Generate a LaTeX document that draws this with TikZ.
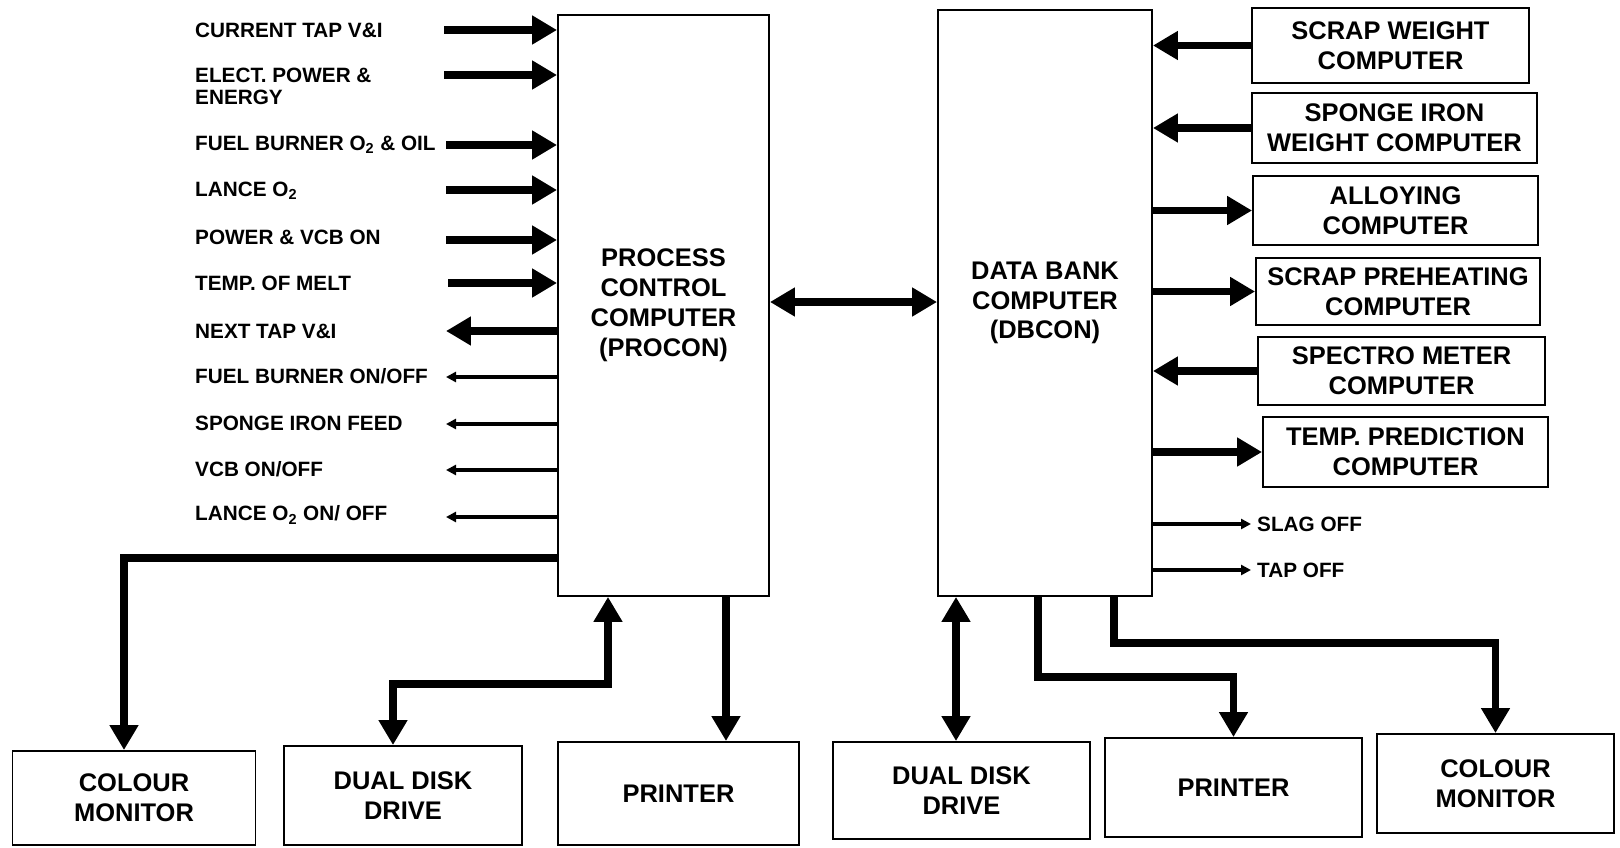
\documentclass[tikz,border=0pt]{standalone}
\usepackage{fontspec}
\setmainfont{Liberation Sans}
\usetikzlibrary{positioning, arrows.meta, calc}
\newcommand{\boxfnt}{\fontsize{14.5}{17}\selectfont\bfseries}
\newcommand{\lblfnt}{\fontsize{11.8}{12.5}\selectfont\bfseries}

\begin{document}
\begin{tikzpicture}[
    x=0.02cm, y=-0.02cm,
    box/.style={draw, line width=1.1pt, align=center, inner sep=0pt, font=\boxfnt},
    lbl/.style={font=\lblfnt, anchor=west, align=left},
    fat/.style={line width=4.5pt, -{Triangle[length=0.5cm, width=0.55cm]}},
    fatboth/.style={line width=4.5pt, {Triangle[length=0.5cm, width=0.55cm]}-{Triangle[length=0.5cm, width=0.55cm]}},
    slim/.style={line width=1.9pt, -{Triangle[length=0.2cm, width=0.2cm]}}
]
    \fill[white] (0,0) rectangle (1620,848);
    \useasboundingbox (0,0) rectangle (1620,848);

    % main computers
    \node[box, minimum width=4.22cm, minimum height=11.62cm] (procon) at (663.5,305.5)
        {PROCESS\\CONTROL\\COMPUTER\\(PROCON)};
    \node[box, minimum width=4.28cm, minimum height=11.72cm] (dbcon) at (1045,303)
        {DATA BANK\\COMPUTER\\(DBCON)};
    \coordinate (link) at (850,302);
    \draw[fatboth] (link -| procon.east) -- (link -| dbcon.west);

    % inputs to PROCON
    \node[lbl] at (189,30) {CURRENT TAP V\&I};
    \coordinate (i1) at (444,30);
    \draw[fat] (i1) -- (i1 -| procon.west);

    \node[lbl] at (189,86) {ELECT. POWER \&\\ENERGY};
    \coordinate (i2) at (444,75);
    \draw[fat] (i2) -- (i2 -| procon.west);

    \node[lbl] at (189,145) {FUEL BURNER O\textsubscript{2} \& OIL};
    \coordinate (i3) at (446,145);
    \draw[fat] (i3) -- (i3 -| procon.west);

    \node[lbl] at (189,191) {LANCE O\textsubscript{2}};
    \coordinate (i4) at (446,190);
    \draw[fat] (i4) -- (i4 -| procon.west);

    \node[lbl] at (189,237) {POWER \& VCB ON};
    \coordinate (i5) at (446,240);
    \draw[fat] (i5) -- (i5 -| procon.west);

    \node[lbl] at (189,283) {TEMP. OF MELT};
    \coordinate (i6) at (448,283);
    \draw[fat] (i6) -- (i6 -| procon.west);

    % outputs from PROCON
    \node[lbl] at (189,331) {NEXT TAP V\&I};
    \coordinate (o1) at (446,331);
    \draw[fat] (o1 -| procon.west) -- (o1);

    \node[lbl] at (189,376) {FUEL BURNER ON/OFF};
    \coordinate (o2) at (446,377);
    \draw[slim] (o2 -| procon.west) -- (o2);

    \node[lbl] at (189,423) {SPONGE IRON FEED};
    \coordinate (o3) at (446,424);
    \draw[slim] (o3 -| procon.west) -- (o3);

    \node[lbl] at (189,469) {VCB ON/OFF};
    \coordinate (o4) at (446,470);
    \draw[slim] (o4 -| procon.west) -- (o4);

    \node[lbl] at (189,515) {LANCE O\textsubscript{2} ON/ OFF};
    \coordinate (o5) at (446,517);
    \draw[slim] (o5 -| procon.west) -- (o5);

    % PROCON peripherals
    \node[box, minimum width=4.86cm, minimum height=1.88cm] (cmon1) at (134,798) {COLOUR\\MONITOR};
    \node[box, minimum width=4.76cm, minimum height=1.98cm] (ddisk1) at (403,795.5) {DUAL DISK\\DRIVE};
    \node[box, minimum width=4.82cm, minimum height=2.06cm] (prn1) at (678.5,793.5) {PRINTER};

    \coordinate (cm1bend) at (124,558);
    \draw[fat] (cm1bend -| procon.west) -- (cm1bend) -- (cm1bend |- cmon1.north);
    \coordinate (dd1a) at (393,684);
    \coordinate (dd1b) at (608,684);
    \draw[fatboth] (dd1a |- ddisk1.north) -- (dd1a) -- (dd1b) -- (dd1b |- procon.south);
    \draw[fat] ([xshift=1.25cm]procon.south) -- ([xshift=1.25cm]procon.south |- prn1.north);

    % DBCON satellites
    \node[box, minimum width=5.54cm, minimum height=1.5cm] (sw) at (1390.5,45.5) {SCRAP WEIGHT\\COMPUTER};
    \node[box, minimum width=5.7cm, minimum height=1.4cm] (si) at (1394.5,128) {SPONGE IRON\\WEIGHT COMPUTER};
    \node[box, minimum width=5.7cm, minimum height=1.38cm] (al) at (1395.5,210.5) {ALLOYING\\COMPUTER};
    \node[box, minimum width=5.68cm, minimum height=1.34cm] (sp) at (1398,291.5) {SCRAP PREHEATING\\COMPUTER};
    \node[box, minimum width=5.74cm, minimum height=1.36cm] (sm) at (1401.5,371) {SPECTRO METER\\COMPUTER};
    \node[box, minimum width=5.7cm, minimum height=1.4cm] (tp) at (1405.5,452) {TEMP. PREDICTION\\COMPUTER};

    \draw[fat] (sw.west) -- (sw.west -| dbcon.east);
    \draw[fat] (si.west) -- (si.west -| dbcon.east);
    \draw[fat] (al.west -| dbcon.east) -- (al.west);
    \draw[fat] (sp.west -| dbcon.east) -- (sp.west);
    \draw[fat] (sm.west) -- (sm.west -| dbcon.east);
    \draw[fat] (tp.west -| dbcon.east) -- (tp.west);

    \node[lbl] (slag) at (1251,524) {SLAG OFF};
    \draw[slim] (slag.west -| dbcon.east) -- (slag.west);
    \node[lbl] (tapoff) at (1251,570) {TAP OFF};
    \draw[slim] (tapoff.west -| dbcon.east) -- (tapoff.west);

    % DBCON peripherals
    \node[box, minimum width=5.14cm, minimum height=1.94cm] (ddisk2) at (961.5,790.5) {DUAL DISK\\DRIVE};
    \node[box, minimum width=5.14cm, minimum height=1.98cm] (prn2) at (1233.5,787.5) {PRINTER};
    \node[box, minimum width=4.74cm, minimum height=1.98cm] (cmon2) at (1495.5,783.5) {COLOUR\\MONITOR};

    \draw[fatboth] ([xshift=-1.78cm]dbcon.south) -- ([xshift=-1.78cm]dbcon.south |- ddisk2.north);
    \coordinate (pr2bend) at (1038,677);
    \draw[fat] (pr2bend |- dbcon.south) -- (pr2bend) -| (prn2.north);
    \coordinate (cm2bend) at (1114,643);
    \draw[fat] (cm2bend |- dbcon.south) -- (cm2bend) -| (cmon2.north);
\end{tikzpicture}
\end{document}
